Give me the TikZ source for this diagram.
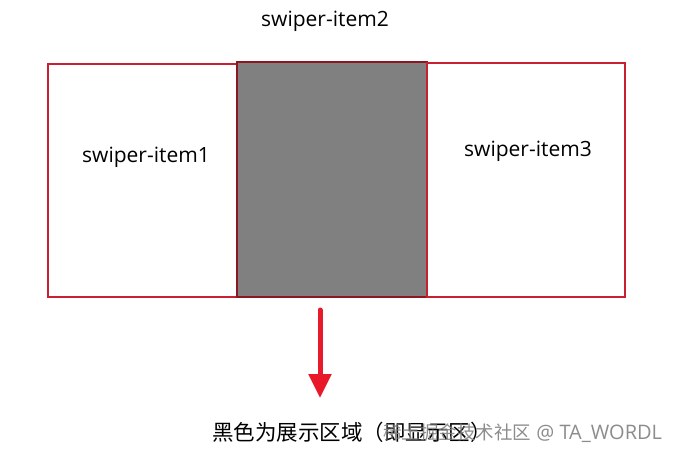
\documentclass[tikz,border=0pt]{standalone}
\usepackage{fontspec}
\setmainfont{Open Sans}
\newfontfamily\cjk{Noto Sans CJK SC}
\usepackage{xcolor}
\definecolor{frame}{RGB}{200, 32, 48}
\definecolor{shown}{RGB}{128, 128, 128}
\definecolor{pointer}{RGB}{232, 26, 42}
\usepackage{tikz}
\usetikzlibrary{arrows.meta, positioning}
\tikzstyle{item} = [rectangle, draw=frame, line width=1.2pt, inner sep=0pt, outer sep=0pt, anchor=south west]
\tikzstyle{label} = [font=\fontsize{21}{25}\selectfont, anchor=base, inner sep=0pt]
\tikzstyle{arrow} = [draw=pointer, line width=5pt, line cap=round, -{Triangle[width=22pt,length=24pt]}]

\begin{document}
\begin{tikzpicture}[x=1pt, y=-1pt]
    \useasboundingbox (0,0) rectangle (687,456);
    % three swiper items side by side
    \node[item, minimum width=189pt, minimum height=233pt] (first) at (48,297) {};
    \node[item, fill=shown, draw=frame!70!black, minimum width=190pt, minimum height=235pt, right=0pt of first.south east, anchor=south west] (second) {};
    \node[item, minimum width=198pt, minimum height=234pt, right=0pt of second.south east, anchor=south west] (third) {};

    \node[label] (firstname) at (146,162) {swiper-item1};
    \node[label] (secondname) at (325,26) {swiper-item2};
    \node[label] (thirdname) at (528,156) {swiper-item3};

    % caption and watermark
    \node[label, anchor=base west, font=\cjk\fontsize{21.5}{25}\selectfont] (caption) at (212,440) {黑色为展示区域（即显示区）};
    \node[label, anchor=base west, text=black!50, opacity=0.9, font=\cjk\fontsize{18.5}{22}\selectfont] (mark) at (383,439) {稀土掘金技术社区{\rmfamily\fontsize{20}{22}\selectfont{} @ TA\_WORDL}};

    \coordinate (tail) at (320,310);
    \coordinate (tip) at (320,398);
    \draw[arrow] (tail) -- (tip);
\end{tikzpicture}
\end{document}
